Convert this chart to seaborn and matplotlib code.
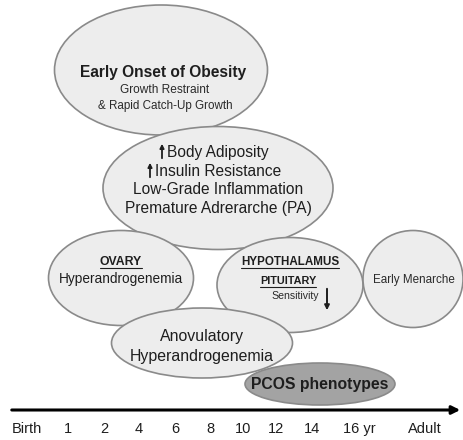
import matplotlib
matplotlib.use("Agg")
import matplotlib.pyplot as plt
import seaborn as sns
from matplotlib.patches import Ellipse

# timeline labels along the bottom axis
ages = ["Birth", "1", "2", "4", "6", "8", "10", "12", "14", "16 yr", "Adult"]
age_x = [27, 68, 104, 139, 175, 210, 243, 276, 312, 359, 425]

# ellipse boxes: name, centre, size
boxes = ["obesity", "adiposity", "ovary", "hypo", "menarche", "anov", "pcos"]
box_cx = [161, 218, 121, 290, 413, 202, 320]
box_cy = [70, 188, 278, 285, 279, 343, 384]
box_w = [213, 230, 145, 146, 100, 181, 150]
box_h = [130, 123, 95, 95, 97, 70, 42]
box_fill = ["#ededed", "#ededed", "#ededed", "#ededed", "#ededed", "#ededed", "#a3a3a3"]

sns.set_theme(style="white")
plt.rcParams['font.family'] = ['Liberation Sans', 'DejaVu Sans']

fig = plt.figure(figsize=(4.63, 4.40), dpi=100)
ax = fig.add_axes([0, 0, 1, 1])
ax.set_xlim(0, 463)
ax.set_ylim(440, 0)
ax.axis("off")

for i in range(len(boxes)):
    ax.add_patch(Ellipse((box_cx[i], box_cy[i]), box_w[i], box_h[i],
                         facecolor=box_fill[i], edgecolor="#8a8a8a", lw=1.2, zorder=i + 1))

tz = 20
ink = "#1e1e1e"
# Early onset of obesity
ax.text(163, 72, "Early Onset of Obesity", ha="center", va="center", fontsize=11.2,
        fontweight="bold", color=ink, zorder=tz)
ax.text(165, 90, "Growth Restraint", ha="center", va="center", fontsize=8.6, color="#2a2a2a", zorder=tz)
ax.text(165, 106, "& Rapid Catch-Up Growth", ha="center", va="center", fontsize=8.4, color="#2a2a2a", zorder=tz)

# adiposity box
lines = ["Body Adiposity", "Insulin Resistance", "Low-Grade Inflammation", "Premature Adrerarche (PA)"]
line_x = [218, 218, 218, 218]
line_y = [152, 171, 190, 209]
for s, x, y in zip(lines, line_x, line_y):
    ax.text(x, y, s, ha="center", va="center", fontsize=11.2, color=ink, zorder=tz)
ax.annotate("", xy=(162, 141), xytext=(162, 161),
            arrowprops=dict(arrowstyle="-|>", lw=1.3, color=ink, mutation_scale=6), zorder=tz)
ax.annotate("", xy=(150, 160), xytext=(150, 180),
            arrowprops=dict(arrowstyle="-|>", lw=1.3, color=ink, mutation_scale=6), zorder=tz)

# ovary
ax.text(121, 262, "OVARY", ha="center", va="center", fontsize=8.8, fontweight="bold",
        color=ink, zorder=tz)
ax.plot([100, 142], [268, 268], color=ink, lw=0.8, zorder=tz)
ax.text(121, 279, "Hyperandrogenemia", ha="center", va="center", fontsize=9.8, color=ink, zorder=tz)

# hypothalamus / pituitary
ax.text(290, 262, "HYPOTHALAMUS", ha="center", va="center", fontsize=8.4, fontweight="bold",
        color=ink, zorder=tz)
ax.plot([241, 339], [268, 268], color=ink, lw=0.8, zorder=tz)
ax.text(288, 281, "PITUITARY", ha="center", va="center", fontsize=7.8, fontweight="bold",
        color=ink, zorder=tz)
ax.plot([260, 316], [287, 287], color=ink, lw=0.8, zorder=tz)
ax.text(295, 296, "Sensitivity", ha="center", va="center", fontsize=7.6, color="#2a2a2a", zorder=tz)
ax.annotate("", xy=(327, 313), xytext=(327, 286),
            arrowprops=dict(arrowstyle="-|>", lw=1.4, color=ink, mutation_scale=7), zorder=tz)

# early menarche
ax.text(414, 280, "Early Menarche", ha="center", va="center", fontsize=8.4, color="#2a2a2a", zorder=tz)

# anovulatory
ax.text(202, 337, "Anovulatory", ha="center", va="center", fontsize=11.4, color=ink, zorder=tz)
ax.text(202, 356, "Hyperandrogenemia", ha="center", va="center", fontsize=11.4, color=ink, zorder=tz)

# PCOS
ax.text(320, 385, "PCOS phenotypes", ha="center", va="center", fontsize=11.3, fontweight="bold",
        color=ink, zorder=tz)

# timeline
ax.annotate("", xy=(463, 410), xytext=(9, 410),
            arrowprops=dict(arrowstyle="-|>", lw=2.2, color="black", mutation_scale=12), zorder=tz)
for s, x in zip(ages, age_x):
    ax.text(x, 429, s, ha="center", va="center", fontsize=10.5, color=ink, zorder=tz)

fig.savefig("out.png", dpi=100, facecolor="white")
